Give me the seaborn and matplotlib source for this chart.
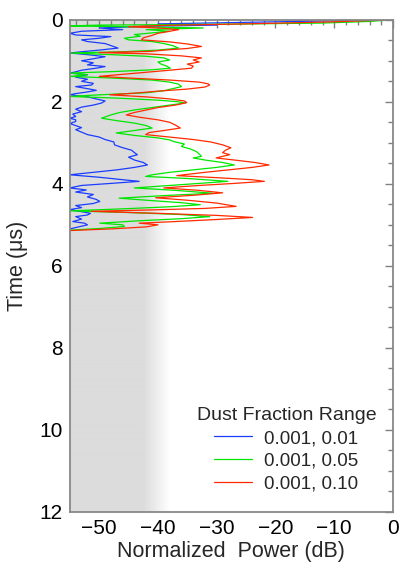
import numpy as np
import pandas as pd
import seaborn as sns
import matplotlib.pyplot as plt
from matplotlib.colors import LinearSegmentedColormap
from matplotlib.ticker import MultipleLocator

# Data (time in us, power in dB)
blue_t = [0.0, 0.05, 0.1, 0.13, 0.16, 0.2, 0.24, 0.28, 0.33, 0.37, 0.41, 0.45, 0.49, 0.53,
          0.58, 0.63, 0.69, 0.74, 0.78, 0.81, 0.85, 0.9, 0.95, 1.0, 1.05, 1.1, 1.14, 1.18,
          1.23, 1.27, 1.3, 1.34, 1.4, 1.45, 1.5, 1.55, 1.59, 1.63, 1.68, 1.72, 1.76, 1.8,
          1.83, 1.88, 1.93, 1.98, 2.03, 2.08, 2.13, 2.18, 2.24, 2.3, 2.36, 2.4, 2.44, 2.48,
          2.53, 2.58, 2.63, 2.68, 2.74, 2.8, 2.86, 2.92, 2.98, 3.05, 3.12, 3.18, 3.24, 3.29,
          3.35, 3.42, 3.48, 3.54, 3.6, 3.66, 3.72, 3.78, 3.84, 3.9, 3.94, 3.99, 4.04, 4.1,
          4.15, 4.2, 4.26, 4.32, 4.38, 4.43, 4.48, 4.53, 4.58, 4.63, 4.68, 4.72, 4.76, 4.8,
          4.86, 4.92, 4.96, 5.0, 5.05, 5.1, 5.15]
blue_db = [0, -20, -40, -30, -42, -50, -46, -53, -55, -54, -48, -50, -53, -52,
           -49, -48, -46.8, -50, -53, -55, -52, -49, -51, -53, -51, -52, -49, -50.5,
           -53, -54, -55, -52, -54, -52, -53, -51, -51.3, -54, -52, -50.5, -52, -54,
           -55, -52, -50.5, -49, -49.6, -51, -53, -54, -53, -54.5, -54, -55, -54, -54,
           -55, -54, -53, -54, -53, -52, -50, -49, -47.5, -47.4, -46, -44.5, -44, -43.5,
           -45, -44, -42.5, -41.8, -44, -47, -51, -55, -50, -46, -43.2, -48, -53, -55,
           -52.2, -54, -51, -52, -50.5, -49.9, -51, -54, -53, -55, -53, -51.5, -52, -54,
           -53, -54.5, -52.5, -52, -53.5, -55, -55]

green_t = [0.0, 0.04, 0.08, 0.11, 0.13, 0.15, 0.18, 0.2, 0.24, 0.28, 0.32, 0.36, 0.4, 0.45,
           0.49, 0.53, 0.58, 0.63, 0.69, 0.74, 0.78, 0.81, 0.85, 0.89, 0.93, 0.98, 1.03,
           1.08, 1.13, 1.18, 1.22, 1.26, 1.3, 1.34, 1.38, 1.42, 1.47, 1.52, 1.57, 1.63,
           1.68, 1.73, 1.78, 1.83, 1.87, 1.91, 1.96, 2.0, 2.03, 2.08, 2.14, 2.2, 2.26,
           2.32, 2.4, 2.46, 2.52, 2.58, 2.64, 2.7, 2.76, 2.82, 2.88, 2.93, 2.97, 3.03,
           3.09, 3.15, 3.21, 3.27, 3.33, 3.37, 3.42, 3.48, 3.54, 3.6, 3.66, 3.72, 3.78,
           3.82, 3.87, 3.94, 3.99, 4.04, 4.1, 4.16, 4.23, 4.28, 4.35, 4.4, 4.46, 4.51,
           4.56, 4.61, 4.66, 4.7, 4.75, 4.8, 4.85, 4.9, 4.96, 5.0, 5.04, 5.09, 5.13, 5.17]
green_db = [0, -4, -12, -30, -50, -55, -40, -32.3, -42, -38, -41, -44, -43, -45.7,
            -45, -41, -39, -37.5, -36.5, -40, -46, -55, -48, -42, -39, -38, -40,
            -39.5, -38.5, -37.9, -41, -47, -55, -52, -55, -48, -41, -38, -36.5, -36,
            -37.5, -39, -42, -50, -55, -47, -40, -36.5, -35.4, -38, -41, -44, -46.5,
            -48, -49.6, -47, -44, -42, -41, -44, -47.1, -44, -40, -38, -37.3, -35.5,
            -36, -34.5, -33.5, -33, -32.6, -34, -32, -29, -27, -30, -34, -38, -41,
            -42.1, -35, -28.1, -33, -38, -44, -37, -30.6, -38, -46.6, -42, -36, -32.8,
            -38, -46, -55, -45, -36, -31.2, -36, -43, -49.9, -46, -45.7, -50, -55, -55]

red_t = [0.0, 0.05, 0.1, 0.14, 0.17, 0.2, 0.24, 0.28, 0.33, 0.38, 0.44, 0.49, 0.54, 0.59,
         0.65, 0.7, 0.74, 0.77, 0.8, 0.83, 0.88, 0.93, 0.98, 1.03, 1.08, 1.13, 1.18, 1.23,
         1.28, 1.33, 1.38, 1.42, 1.47, 1.52, 1.56, 1.59, 1.64, 1.69, 1.74, 1.79, 1.83,
         1.88, 1.93, 1.98, 2.02, 2.08, 2.14, 2.2, 2.26, 2.32, 2.38, 2.44, 2.5, 2.57, 2.64,
         2.7, 2.75, 2.8, 2.86, 2.92, 2.98, 3.05, 3.12, 3.18, 3.24, 3.29, 3.33, 3.37, 3.42,
         3.48, 3.54, 3.6, 3.66, 3.72, 3.77, 3.8, 3.85, 3.9, 3.94, 3.99, 4.04, 4.1, 4.16,
         4.22, 4.28, 4.34, 4.4, 4.47, 4.55, 4.6, 4.64, 4.67, 4.72, 4.77, 4.82, 4.87, 4.92,
         4.96, 5.0, 5.05, 5.1, 5.14]
red_db = [0, -10, -25, -40, -45, -40, -36.5, -38, -40, -41, -42.5, -42.8, -38, -35,
          -32.6, -35, -39, -41.2, -50, -42, -36, -32.6, -34, -33, -35, -34, -34.3, -38,
          -42, -46, -50, -45, -38, -33, -31.5, -31.2, -32, -35, -40, -44, -48.2,
          -42, -38, -35.5, -35.1, -37, -40, -42, -44, -45.4, -43, -40, -38, -37, -36.2,
          -39, -41.5, -42.1, -38, -34, -31, -29, -27.6, -28.5, -29, -27.8, -29, -30.1, -27,
          -23.5, -21.1, -24, -28, -32, -35, -36.8, -30, -24, -21.9, -27, -33, -39, -33,
          -29, -34, -40.4, -35, -30, -26.7, -32, -42, -51.3, -40, -30, -23.9, -30, -37,
          -43.2, -40, -42, -48, -55]

labels = ['0.001, 0.01', '0.001, 0.05', '0.001, 0.10']
colors = ['#1a3cff', '#00e600', '#ff2a00']

df = pd.concat([
    pd.DataFrame({'power': blue_db, 'time': blue_t, 'series': labels[0]}),
    pd.DataFrame({'power': green_db, 'time': green_t, 'series': labels[1]}),
    pd.DataFrame({'power': red_db, 'time': red_t, 'series': labels[2]}),
], ignore_index=True)

sns.set_style('white')
plt.rcParams['font.family'] = ['Liberation Sans', 'DejaVu Sans']

fig = plt.figure(figsize=(3.99, 5.65), dpi=100)
ax = fig.add_axes([0.175, 0.094, 0.81, 0.871])

# grey noise-floor band fading to white
xs = np.linspace(-55, -38, 300)
shade = np.clip((xs + 42.5) / 4.5, 0, 1)[None, :]
cmap = LinearSegmentedColormap.from_list('fade', ['#dcdcdc', '#ffffff'])
ax.imshow(shade, cmap=cmap, vmin=0, vmax=1, extent=[-55, -38, 12, 0],
          aspect='auto', zorder=0, interpolation='bilinear')

sns.lineplot(data=df, x='power', y='time', hue='series', palette=colors,
             sort=False, estimator=None, linewidth=0.9, ax=ax, zorder=2)

ax.set_xlim(-55, 0)
ax.set_ylim(12, 0)
ax.xaxis.set_major_locator(MultipleLocator(10))
ax.xaxis.set_minor_locator(MultipleLocator(2))
ax.yaxis.set_major_locator(MultipleLocator(2))
ax.yaxis.set_minor_locator(MultipleLocator(0.5))
ax.tick_params(which='both', direction='in', top=True, right=True, colors='#808080',
               labelcolor='black', labelsize=15, width=1)
ax.tick_params(which='major', length=6, pad=5)
ax.tick_params(which='minor', length=3.5)
for s in ax.spines.values():
    s.set_color('#888888')
    s.set_linewidth(1.3)

ax.set_xlabel('Normalized  Power (dB)', fontsize=15.5, labelpad=2)
ax.set_ylabel('Time (\u03bcs)', fontsize=15.5, labelpad=8)

leg = ax.legend(title='Dust Fraction Range', loc='lower right', bbox_to_anchor=(1.0, 0.005),
                frameon=False, fontsize=13.5, title_fontsize=14, handlelength=2.0,
                labelspacing=0.3, handletextpad=0.65)

fig.savefig('out.png', dpi=100)
